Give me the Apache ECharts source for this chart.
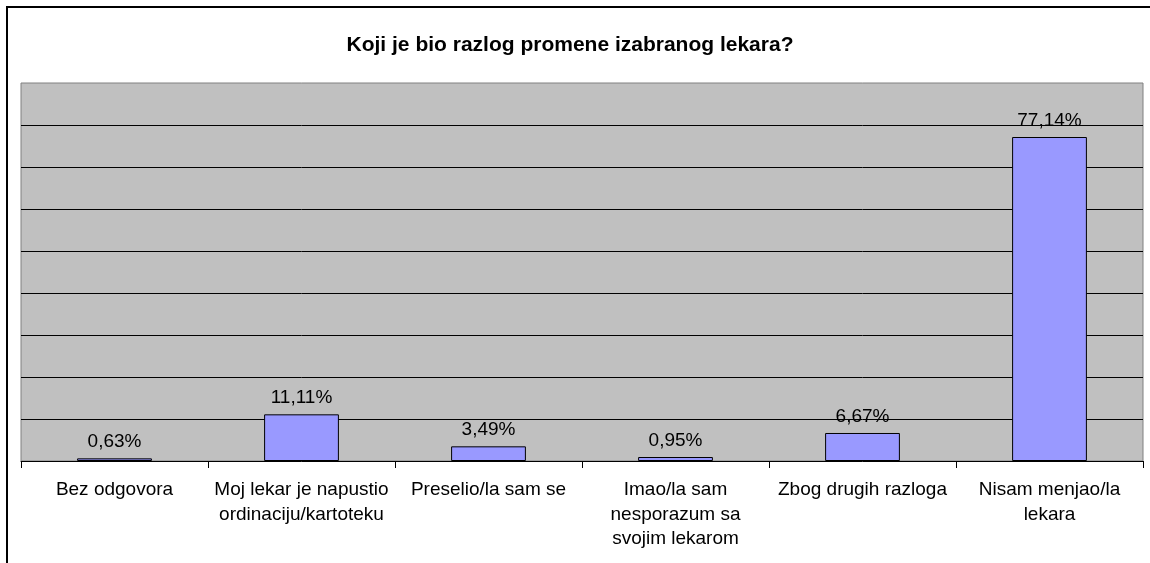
<!DOCTYPE html>
<html>
<head>
<meta charset="utf-8">
<script src="https://cdn.jsdelivr.net/npm/echarts@6/dist/echarts.min.js"></script>
<style>
  html, body { margin: 0; padding: 0; background: #fff; }
  #chart { width: 1150px; height: 563px; }
</style>
</head>
<body>
<div id="chart"></div>
<script>
const titleText = "Koji je bio razlog promene izabranog lekara?";
const categories = [
  "Bez odgovora",
  "Moj lekar je napustio\nordinaciju/kartoteku",
  "Preselio/la sam se",
  "Imao/la sam\nnesporazum sa\nsvojim lekarom",
  "Zbog drugih razloga",
  "Nisam menjao/la\nlekara",
];
const values = [0.63, 11.11, 3.49, 0.95, 6.67, 77.14];

const font = "'Liberation Sans', Arial, sans-serif";
const chart = echarts.init(document.getElementById("chart"));

chart.setOption({
  animation: false,
  backgroundColor: "#fff",
  title: {
    text: titleText,
    left: 565,
    textAlign: "center",
    top: 30,
    textStyle: { fontFamily: font, fontSize: 21, fontWeight: "bold", color: "#000" },
  },
  graphic: [
    {
      type: "rect",
      silent: true,
      shape: { x: 7, y: 7, width: 1300, height: 700 },
      style: { fill: null, stroke: "#000", lineWidth: 2 },
    },
  ],
  grid: {
    left: 21,
    right: 7,
    top: 83,
    bottom: 102,
    show: true,
    backgroundColor: "#C0C0C0",
    borderColor: "#808080",
    borderWidth: 1,
  },
  xAxis: {
    type: "category",
    data: categories,
    axisLine: { lineStyle: { color: "#000", width: 1 } },
    axisTick: { show: true, length: 7, lineStyle: { color: "#000" } },
    axisLabel: {
      interval: 0,
      margin: 17,
      fontFamily: font,
      fontSize: 19,
      lineHeight: 24.5,
      color: "#000",
    },
  },
  yAxis: {
    type: "value",
    min: 0,
    max: 90,
    interval: 10,
    axisLabel: { show: false },
    axisLine: { show: false },
    axisTick: { show: false },
    splitLine: {
      show: true,
      showMinLine: false,
      showMaxLine: false,
      lineStyle: { color: "#000", width: 1 },
    },
  },
  series: [
    {
      type: "bar",
      data: values,
      barCategoryGap: "60%",
      itemStyle: { color: "#9999FF", borderColor: "#000", borderWidth: 1 },
      label: {
        show: true,
        position: "top",
        distance: 7,
        fontFamily: font,
        fontSize: 19,
        color: "#000",
        formatter: (p) => p.value.toFixed(2).replace(".", ",") + "%",
      },
    },
  ],
});
</script>
</body>
</html>
